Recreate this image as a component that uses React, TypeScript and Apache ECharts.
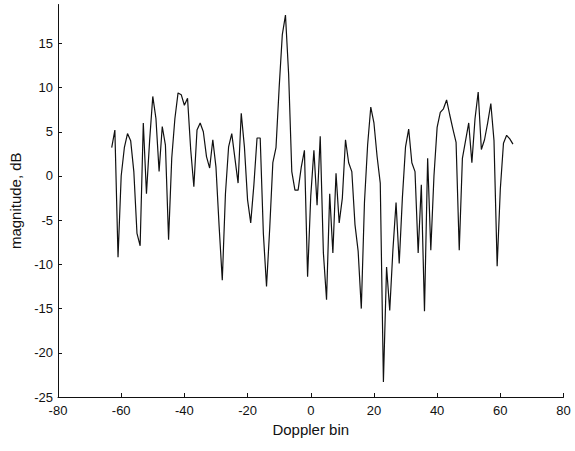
import React, { useEffect, useRef } from "react";
import * as echarts from "echarts";

const bins: number[] = [];
for (let k = -63; k <= 64; k++) bins.push(k);

const magnitudeDb: number[] = [
  3.2, 5.2, -9.2, 0.0, 3.2, 4.8, 4.0, 0.5, -6.5, -7.9,
  6.0, -2.0, 4.0, 9.0, 6.5, 0.5, 5.6, 3.5, -7.2, 2.0,
  6.5, 9.4, 9.2, 8.0, 8.8, 3.0, -1.2, 5.2, 6.0, 5.0,
  2.2, 0.9, 4.1, 1.0, -5.7, -11.8, -2.0, 3.3, 4.8, 2.0,
  -0.8, 7.1, 3.3, -2.7, -5.3, -1.0, 4.3, 4.3, -6.5, -12.5,
  -6.0, 1.5, 3.2, 10.0, 16.0, 18.2, 11.5, 0.5, -1.6, -1.6,
  1.0, 2.9, -11.4, -2.3, 2.9, -3.3, 4.5, -8.7, -14.0, -2.0,
  -8.7, 0.3, -5.3, -2.5, 4.1, 1.5, 0.5, -5.5, -8.5, -15.0,
  -3.0, 3.5, 7.8, 6.0, 2.2, -0.8, -23.3, -10.3, -15.2, -8.4,
  -3.0, -9.9, -2.5, 3.3, 5.3, 1.5, 0.5, -8.7, -1.0, -15.3,
  2.0, -8.4, 0.0, 5.5, 7.2, 7.6, 8.6, 6.9, 5.3, 3.8,
  -8.4, 2.0, 4.0, 6.0, 1.5, 6.5, 9.5, 3.0, 4.1, 6.0,
  8.2, 4.0, -10.2, -1.5, 3.7, 4.6, 4.2, 3.6,
];

const xTicks = [-80, -60, -40, -20, 0, 20, 40, 60, 80];
const yTicks = [-25, -20, -15, -10, -5, 0, 5, 10, 15];

export default function App() {
  const ref = useRef<HTMLDivElement>(null);
  useEffect(() => {
    if (!ref.current) return;
    const chart = echarts.init(ref.current, null, { renderer: "svg" });
    const font = "'Liberation Sans', Arial, Helvetica, sans-serif";
    chart.setOption({
      animation: false,
      backgroundColor: "#fff",
      grid: { left: 58, right: 11.5, top: 4.5, bottom: 54 },
      xAxis: {
        type: "value",
        min: -80,
        max: 80,
        interval: 20,
        name: "Doppler bin",
        nameLocation: "middle",
        nameGap: 15,
        nameTextStyle: { fontFamily: font, fontSize: 15, color: "#111" },
        axisLine: { show: true, onZero: false, lineStyle: { color: "#111", width: 1 } },
        axisTick: { show: true, inside: true, length: 4, customValues: xTicks, lineStyle: { color: "#111" } },
        axisLabel: { fontFamily: font, fontSize: 13, color: "#111", margin: 7, customValues: xTicks },
        splitLine: { show: false },
      },
      yAxis: {
        type: "value",
        min: -25,
        max: 19.4,
        name: "magnitude, dB",
        nameLocation: "middle",
        nameGap: 31,
        nameTextStyle: { fontFamily: font, fontSize: 15, color: "#111" },
        axisLine: { show: true, onZero: false, lineStyle: { color: "#111", width: 1 } },
        axisTick: { show: true, inside: true, length: 4, customValues: yTicks, lineStyle: { color: "#111" } },
        axisLabel: { fontFamily: font, fontSize: 13, color: "#111", margin: 5, customValues: yTicks },
        splitLine: { show: false },
      },
      series: [
        {
          type: "line",
          data: bins.map((b, i) => [b, magnitudeDb[i]]),
          showSymbol: false,
          symbol: "none",
          lineStyle: { color: "#111", width: 1.2 },
        },
      ],
    });
    return () => chart.dispose();
  }, []);
  return (
    <div
      ref={ref}
      style={{ position: "absolute", left: 0, top: 0, width: 575, height: 451, background: "#fff" }}
    />
  );
}
